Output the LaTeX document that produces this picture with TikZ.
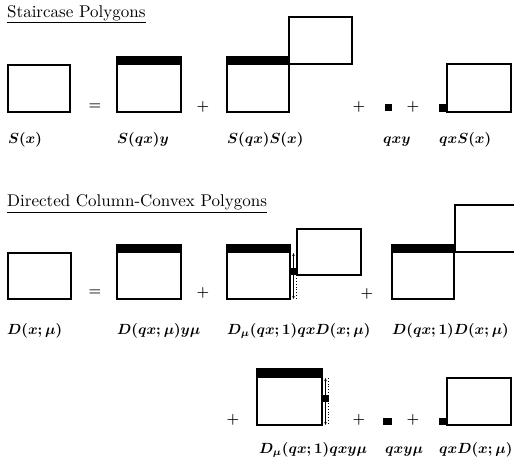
\documentclass[tikz,border=0pt]{standalone}
\usetikzlibrary{arrows.meta}
\newcommand{\mylbl}[1]{\scalebox{1.47}{\boldmath$#1$}}
\begin{document}
\begin{tikzpicture}[x=1pt,y=-1pt,
  box/.style={line width=1.4pt},
  bar/.style={fill=black},
  lbl/.style={anchor=base west,inner sep=0pt,font=\fontsize{10}{12}\selectfont},
  op/.style={inner sep=0pt,font=\fontsize{15}{18}\selectfont\boldmath},
  ttl/.style={anchor=base west,inner sep=0pt,font=\fontsize{10}{12}\selectfont},
  uline/.style={line width=0.9pt},
  strip/.style={line width=0.6pt},
  dotl/.style={line width=0.8pt,dotted}]
\useasboundingbox (0,0) rectangle (514,464);
% ---------- Staircase ----------
\node[ttl] (t1) at (7,17.8) {\scalebox{1.7}{Staircase Polygons}};
\draw[uline] ([yshift=-5pt]t1.base west) -- ([yshift=-5pt]t1.base east);
\draw[box] (8,65) rectangle (70,112);
\node[op] (eq1) at (95,107) {$=$};
\fill[bar] (117,57) rectangle (181,65);
\draw[box] (117,57) rectangle (181,112);
\node[op] (p1) at (203,107) {$+$};
\fill[bar] (227,57) rectangle (289,65);
\draw[box] (227,57) rectangle (289,112);
\draw[box] (289,17) rectangle (352,64);
\node[op] (p2) at (359,107) {$+$};
\fill[bar] (385,104) rectangle (392,111);
\node[op] (p3) at (413,107) {$+$};
\fill[bar] (439,104) rectangle (447,112);
\draw[box] (447,64) rectangle (511,112);
\node[lbl] (l1) at (8,143) {\mylbl{S(x)}};
\node[lbl] (l2) at (117,143) {\mylbl{S(qx)y}};
\node[lbl] (l3) at (227,143) {\mylbl{S(qx)S(x)}};
\node[lbl] (l4) at (383,143) {\mylbl{qxy}};
\node[lbl] (l5) at (439,143) {\mylbl{qxS(x)}};
% ---------- Directed column-convex ----------
\node[ttl] (t2) at (7,206.6) {\scalebox{1.7}{Directed Column-Convex Polygons}};
\draw[uline] ([yshift=-5.4pt]t2.base west) -- ([yshift=-5.4pt]t2.base east);
\draw[box] (8,253) rectangle (71,299);
\node[op] (eq2) at (95,293) {$=$};
\fill[bar] (117,245) rectangle (181,253);
\draw[box] (117,245) rectangle (181,299);
\node[op] (p4) at (203,293) {$+$};
\fill[bar] (227,245) rectangle (290,253);
\draw[box] (227,245) rectangle (290,299);
\fill[bar] (290,268) rectangle (297,275);
\draw[strip,{Stealth[length=3pt,width=2.5pt]}-] (293.5,253) -- (293.5,268);
\draw[strip,-{Stealth[length=3pt,width=2.5pt]}] (293.5,275) -- (293.5,299);
\draw[dotl] (296.5,253) -- (296.5,299);
\draw[box] (297,229) rectangle (361,275);
\node[op] (p5) at (367,294) {$+$};
\fill[bar] (392,245) rectangle (454,253);
\draw[box] (392,245) rectangle (454,299);
\draw[box] (455,253) -- (455,205) -- (514,205);
\draw[box] (455,252) -- (514,252);
\node[lbl] (m1) at (7,334) {\mylbl{D(x;\mu)}};
\node[lbl] (m2) at (117,334) {\mylbl{D(qx;\mu)y\mu}};
\node[lbl] (m3) at (227,334) {\mylbl{D_\mu(qx;1)qxD(x;\mu)}};
\node[lbl] (m4) at (392,334) {\mylbl{D(qx;1)D(x;\mu)}};
% row 3
\node[op] (p6) at (233,420) {$+$};
\fill[bar] (257,369) rectangle (322,378);
\draw[box] (257,369) rectangle (322,425);
\fill[bar] (322,395) rectangle (329,402);
\draw[strip,{Stealth[length=3pt,width=2.5pt]}-] (325.5,378) -- (325.5,395);
\draw[strip,-{Stealth[length=3pt,width=2.5pt]}] (325.5,402) -- (325.5,425);
\draw[dotl] (328.5,378) -- (328.5,425);
\node[op] (p7) at (359,420) {$+$};
\fill[bar] (383,418) rectangle (392,425);
\node[op] (p8) at (413,420) {$+$};
\fill[bar] (439,418) rectangle (447,425);
\draw[box] (447,378) rectangle (511,425);
\node[lbl] (n1) at (259,453) {\mylbl{D_\mu(qx;1)qxy\mu}};
\node[lbl] (n2) at (385,453) {\mylbl{qxy\mu}};
\node[lbl] (n3) at (439,453) {\mylbl{qxD(x;\mu)}};
\end{tikzpicture}
\end{document}
